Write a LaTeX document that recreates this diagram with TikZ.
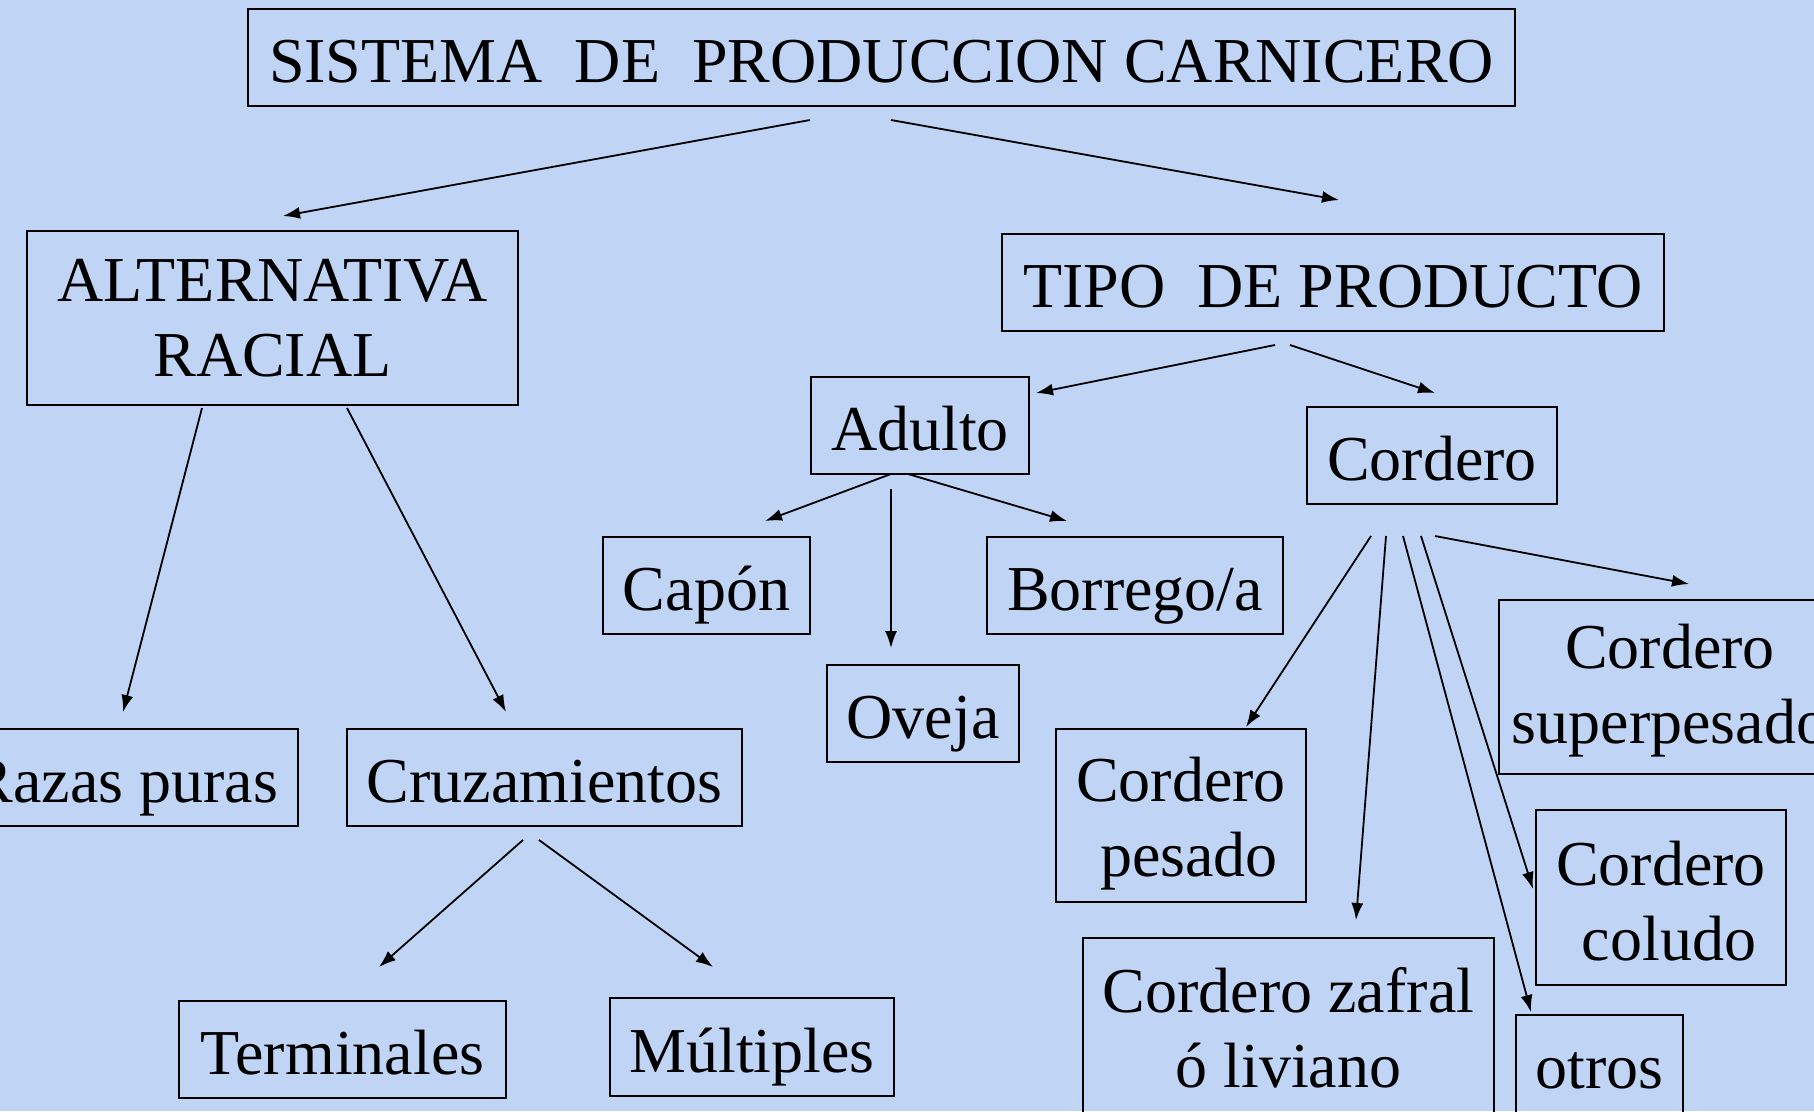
\documentclass[tikz,border=0pt]{standalone}
\usepackage{fontspec}
\setmainfont{Liberation Serif}
\usetikzlibrary{arrows.meta}
\definecolor{bgblue}{RGB}{192,212,246}
\tikzset{
  box/.style={draw=black, line width=1.8pt, inner sep=0pt, align=center,
    font=\fontsize{64}{75}\selectfont},
  onebox/.style={box, text height=50pt, text depth=0pt},
  label text/.style={draw=none, inner sep=0pt, align=center,
    font=\fontsize{64}{75}\selectfont},
  conn/.style={line width=1.8pt, -{Latex[length=17pt,width=12pt]}}
}
\begin{document}
\begin{tikzpicture}[x=1pt,y=-1pt]
\useasboundingbox (0,0) rectangle (1814,1111);
\fill[bgblue] (0,0) rectangle (1814,1111);
\clip (0,0) rectangle (1814,1111);
% boxes
\node[onebox, minimum width=1267pt, minimum height=97pt] (sis) at (881.5,57.5) {SISTEMA\ \ DE\ \ PRODUCCION CARNICERO};
\node[box, minimum width=491pt, minimum height=174pt] (alt) at (272.5,318) {ALTERNATIVA\\RACIAL};
\node[onebox, minimum width=662pt, minimum height=97pt] (tipo) at (1333,282.5) {TIPO\ \ DE PRODUCTO};
\node[onebox, minimum width=218pt, minimum height=97pt] (adulto) at (920,425.5) {Adulto};
\node[onebox, minimum width=250pt, minimum height=97pt] (cordero) at (1432,455.5) {Cordero};
\node[onebox, minimum width=207pt, minimum height=97pt] (capon) at (706.5,585.5) {Capón};
\node[onebox, minimum width=296pt, minimum height=97pt] (borrego) at (1135,585.5) {Borrego/a};
\node[onebox, minimum width=192pt, minimum height=97pt] (oveja) at (923,713.5) {Oveja};
\node[onebox, minimum width=347pt, minimum height=97pt] (razas) at (124.5,777.5) {Razas puras};
\node[onebox, minimum width=395pt, minimum height=97pt] (cruz) at (544.5,777.5) {Cruzamientos};
\node[onebox, minimum width=327pt, minimum height=97pt] (term) at (342.5,1049.5) {Terminales};
\node[onebox, minimum width=284pt, minimum height=98pt] (mult) at (752,1047) {Múltiples};
\node[box, minimum width=250pt, minimum height=173pt] (pesado) at (1181,815.5) {};
\node[label text] (pesadoT) at (1181,823.5) {Cordero\\\ pesado};
\node[box, minimum width=342pt, minimum height=174pt] (superp) at (1670,687) {};
\node[label text] (superpT) at (1670,691) {Cordero\\superpesado};
\node[box, minimum width=250pt, minimum height=175pt] (coludo) at (1661,897.5) {};
\node[label text] (coludoT) at (1661,901.5) {Cordero\\\ coludo};
\node[box, minimum width=411pt, minimum height=180pt] (zafral) at (1288.5,1028) {Cordero zafral\\ó liviano};
\node[onebox, text depth=20pt, minimum width=167pt, minimum height=116pt] (otros) at (1599.5,1073) {otros};
% connector end points
\coordinate (s1) at (810,120);   \coordinate (a1) at (283,216);
\coordinate (s2) at (891,120);   \coordinate (t1) at (1339,200);
\coordinate (a2) at (202,408);   \coordinate (r1) at (123,712);
\coordinate (a3) at (347,408);   \coordinate (c1) at (506,712);
\coordinate (t2) at (1275,345);  \coordinate (ad1) at (1036,393);
\coordinate (t3) at (1290,345);  \coordinate (co1) at (1435,393);
\coordinate (ad2) at (891,474);  \coordinate (ca1) at (765,521);
\coordinate (ad3) at (891,489);  \coordinate (ov1) at (891,648);
\coordinate (ad4) at (908,474);  \coordinate (bo1) at (1067,521);
\coordinate (c2) at (523,840);   \coordinate (te1) at (379,967);
\coordinate (c3) at (539,840);   \coordinate (mu1) at (713,967);
\coordinate (co2) at (1371,536); \coordinate (pe1) at (1246,727);
\coordinate (co3) at (1386,536); \coordinate (za1) at (1356,920);
\coordinate (co4) at (1403,536); \coordinate (ot1) at (1531,1012);
\coordinate (co5) at (1421,536); \coordinate (cl1) at (1533,889);
\coordinate (co6) at (1435,536); \coordinate (su1) at (1689,584);
% connectors
\draw[conn] (s1) -- (a1);
\draw[conn] (s2) -- (t1);
\draw[conn] (a2) -- (r1);
\draw[conn] (a3) -- (c1);
\draw[conn] (t2) -- (ad1);
\draw[conn] (t3) -- (co1);
\draw[conn] (ad2) -- (ca1);
\draw[conn] (ad3) -- (ov1);
\draw[conn] (ad4) -- (bo1);
\draw[conn] (c2) -- (te1);
\draw[conn] (c3) -- (mu1);
\draw[conn] (co2) -- (pe1);
\draw[conn] (co3) -- (za1);
\draw[conn] (co4) -- (ot1);
\draw[conn] (co5) -- (cl1);
\draw[conn] (co6) -- (su1);
\end{tikzpicture}
\end{document}
